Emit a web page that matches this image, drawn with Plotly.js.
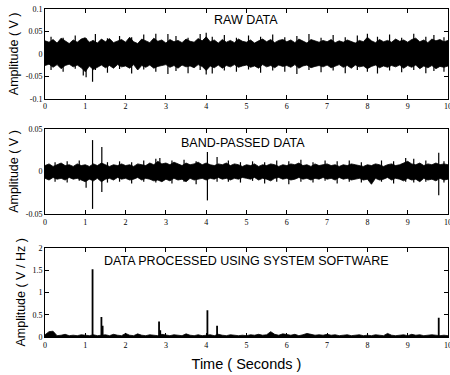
<!DOCTYPE html>
<html>
<head>
<meta charset="utf-8">
<script src="https://cdn.plot.ly/plotly-3.0.1.min.js"></script>
<style>html,body{margin:0;padding:0;background:#fff;}#chart{width:450px;height:375px;}</style>
</head>
<body>
<div id="chart"></div>
<script>
// time grid (seconds), 0.1 s step
const timeS = [0,0.1,0.2,0.3,0.4,0.5,0.6,0.7,0.8,0.9,1,1.1,1.2,1.3,1.4,1.5,1.6,1.7,1.8,1.9,2,2.1,2.2,2.3,2.4,2.5,2.6,2.7,2.8,2.9,3,3.1,3.2,3.3,3.4,3.5,3.6,3.7,3.8,3.9,4,4.1,4.2,4.3,4.4,4.5,4.6,4.7,4.8,4.9,5,5.1,5.2,5.3,5.4,5.5,5.6,5.7,5.8,5.9,6,6.1,6.2,6.3,6.4,6.5,6.6,6.7,6.8,6.9,7,7.1,7.2,7.3,7.4,7.5,7.6,7.7,7.8,7.9,8,8.1,8.2,8.3,8.4,8.5,8.6,8.7,8.8,8.9,9,9.1,9.2,9.3,9.4,9.5,9.6,9.7,9.8,9.9,10];

// RAW DATA envelope (V)
const rawUpper = [0.029,0.026,0.032,0.024,0.035,0.028,0.023,0.031,0.026,0.033,
  0.036,0.026,0.030,0.024,0.033,0.027,0.034,0.025,0.029,0.032,
  0.026,0.037,0.027,0.023,0.033,0.029,0.025,0.035,0.028,0.031,
  0.024,0.032,0.027,0.030,0.025,0.033,0.028,0.026,0.034,0.029,
  0.038,0.027,0.031,0.024,0.032,0.026,0.030,0.025,0.033,0.028,
  0.026,0.031,0.024,0.029,0.033,0.027,0.032,0.025,0.030,0.032,
  0.027,0.031,0.025,0.033,0.028,0.024,0.032,0.029,0.026,0.030,
  0.027,0.032,0.025,0.029,0.026,0.031,0.028,0.024,0.030,0.027,
  0.037,0.029,0.025,0.032,0.027,0.030,0.026,0.033,0.028,0.031,
  0.026,0.032,0.035,0.027,0.031,0.025,0.033,0.029,0.032,0.027,0.030];
const rawLower = [-0.026,-0.023,-0.030,-0.024,-0.033,-0.026,-0.023,-0.029,-0.025,-0.031,
  -0.040,-0.027,-0.035,-0.030,-0.025,-0.031,-0.026,-0.032,-0.024,-0.029,
  -0.027,-0.032,-0.024,-0.036,-0.026,-0.030,-0.025,-0.032,-0.028,-0.026,
  -0.024,-0.030,-0.026,-0.032,-0.025,-0.029,-0.027,-0.031,-0.024,-0.028,
  -0.037,-0.027,-0.031,-0.025,-0.032,-0.026,-0.029,-0.024,-0.030,-0.027,
  -0.025,-0.030,-0.027,-0.032,-0.024,-0.029,-0.026,-0.031,-0.025,-0.028,
  -0.026,-0.030,-0.024,-0.032,-0.027,-0.025,-0.031,-0.028,-0.026,-0.029,
  -0.025,-0.031,-0.027,-0.024,-0.030,-0.026,-0.032,-0.025,-0.029,-0.027,
  -0.033,-0.028,-0.025,-0.031,-0.027,-0.030,-0.026,-0.029,-0.025,-0.032,
  -0.026,-0.030,-0.025,-0.033,-0.027,-0.031,-0.026,-0.033,-0.028,-0.030,-0.027];
// individual excursions (t, min, max)
const rawSpikeT  = [0.15,0.45,0.75,0.95,1.02,1.18,1.25,1.55,1.85,2.15,2.45,2.75,3.05,3.25,3.55,3.85,4.0,4.15,4.45,4.75,5.05,5.35,5.65,5.95,6.25,6.55,6.85,7.15,7.45,7.75,8.0,8.25,8.55,8.85,9.15,9.45,9.65,9.9];
const rawSpikeLo = [-0.036,-0.040,-0.033,-0.048,-0.052,-0.062,-0.036,-0.042,-0.034,-0.044,-0.035,-0.040,-0.045,-0.038,-0.043,-0.036,-0.046,-0.044,-0.037,-0.040,-0.035,-0.042,-0.037,-0.040,-0.045,-0.036,-0.041,-0.037,-0.043,-0.036,-0.040,-0.044,-0.037,-0.041,-0.036,-0.043,-0.038,-0.040];
const rawSpikeHi = [0.038,0.036,0.041,0.030,0.035,0.030,0.044,0.035,0.040,0.037,0.043,0.045,0.044,0.040,0.036,0.044,0.047,0.038,0.042,0.036,0.041,0.038,0.043,0.037,0.040,0.044,0.036,0.042,0.037,0.041,0.045,0.038,0.043,0.036,0.045,0.038,0.042,0.037];

// BAND-PASSED DATA envelope (V)
const bpUpper = [0.007,0.009,0.006,0.008,0.010,0.007,0.008,0.006,0.009,0.007,
  0.008,0.006,0.009,0.007,0.010,0.008,0.006,0.008,0.007,0.009,
  0.007,0.008,0.006,0.009,0.008,0.007,0.010,0.008,0.012,0.009,
  0.010,0.008,0.011,0.009,0.007,0.010,0.008,0.009,0.011,0.008,
  0.010,0.008,0.007,0.009,0.008,0.010,0.007,0.009,0.008,0.006,
  0.008,0.007,0.009,0.006,0.008,0.007,0.009,0.008,0.006,0.008,
  0.007,0.009,0.008,0.010,0.007,0.008,0.006,0.009,0.007,0.008,
  0.009,0.007,0.008,0.006,0.008,0.007,0.009,0.008,0.007,0.006,
  0.008,0.007,0.009,0.008,0.006,0.008,0.009,0.007,0.008,0.010,
  0.012,0.009,0.008,0.010,0.007,0.009,0.008,0.010,0.008,0.009,0.008];
const bpLower = [-0.008,-0.010,-0.007,-0.009,-0.008,-0.010,-0.007,-0.009,-0.008,-0.010,
  -0.012,-0.009,-0.011,-0.008,-0.012,-0.009,-0.008,-0.010,-0.007,-0.009,
  -0.008,-0.010,-0.009,-0.007,-0.010,-0.008,-0.009,-0.011,-0.010,-0.012,
  -0.009,-0.011,-0.008,-0.010,-0.009,-0.012,-0.008,-0.010,-0.009,-0.008,
  -0.010,-0.008,-0.009,-0.007,-0.009,-0.008,-0.010,-0.008,-0.009,-0.007,
  -0.008,-0.009,-0.007,-0.010,-0.008,-0.009,-0.011,-0.008,-0.007,-0.009,
  -0.008,-0.010,-0.009,-0.007,-0.009,-0.008,-0.010,-0.008,-0.009,-0.007,
  -0.009,-0.008,-0.010,-0.007,-0.009,-0.008,-0.010,-0.009,-0.008,-0.010,
  -0.009,-0.015,-0.008,-0.010,-0.009,-0.007,-0.010,-0.008,-0.009,-0.011,
  -0.008,-0.010,-0.009,-0.012,-0.008,-0.010,-0.009,-0.011,-0.008,-0.010,-0.009];
const bpSpikeT  = [0.25,0.55,0.85,1.02,1.18,1.41,1.55,1.85,2.15,2.45,2.75,2.85,3.15,3.45,3.75,4.03,4.27,4.55,4.85,5.15,5.45,5.75,6.05,6.35,6.65,6.95,7.25,7.55,7.85,8.35,8.65,8.95,9.15,9.45,9.77,9.9];
const bpSpikeLo = [-0.012,-0.013,-0.011,-0.019,-0.044,-0.024,-0.013,-0.012,-0.014,-0.012,-0.013,-0.010,-0.014,-0.012,-0.015,-0.034,-0.012,-0.012,-0.013,-0.011,-0.014,-0.012,-0.015,-0.012,-0.013,-0.011,-0.014,-0.012,-0.013,-0.012,-0.014,-0.012,-0.013,-0.012,-0.028,-0.013];
const bpSpikeHi = [0.011,0.012,0.013,0.006,0.037,0.029,0.011,0.012,0.011,0.013,0.015,0.016,0.013,0.014,0.012,0.023,0.017,0.013,0.011,0.012,0.011,0.013,0.012,0.014,0.011,0.013,0.012,0.013,0.011,0.013,0.012,0.016,0.015,0.013,0.022,0.012];

// PROCESSED DATA (V / Hz)
const procBase = [0.05,0.12,0.13,0.03,0.04,0.06,0.03,0.04,0.03,0.05,
  0.04,0.03,0.05,0.03,0.04,0.05,0.03,0.06,0.04,0.03,
  0.08,0.04,0.03,0.07,0.04,0.03,0.05,0.04,0.03,0.06,
  0.04,0.03,0.05,0.04,0.03,0.07,0.04,0.03,0.05,0.03,
  0.04,0.05,0.03,0.06,0.04,0.03,0.05,0.04,0.03,0.04,
  0.03,0.05,0.04,0.06,0.04,0.05,0.12,0.06,0.04,0.07,
  0.05,0.04,0.06,0.03,0.05,0.08,0.06,0.04,0.05,0.04,
  0.06,0.04,0.05,0.03,0.04,0.05,0.03,0.04,0.05,0.03,
  0.04,0.03,0.05,0.04,0.03,0.08,0.04,0.03,0.04,0.05,
  0.03,0.06,0.04,0.05,0.03,0.04,0.05,0.04,0.03,0.04,0.03];
const procSpikeT  = [1.18, 1.40, 1.43, 2.83, 2.86, 4.03, 4.27, 9.77];
const procSpikeHi = [1.52, 0.45, 0.25, 0.35, 0.15, 0.60, 0.25, 0.43];

const yTicksTop = [-0.1, -0.05, 0, 0.05, 0.1];
const yTickTextTop = ['-0.1', '-0.05', '0', '0.05', '0.1'];
const yTicksMid = [-0.05, 0, 0.05];
const yTickTextMid = ['-0.05', '0', '0.05'];
const yTicksBot = [0, 0.5, 1, 1.5, 2];
const yTickTextBot = ['0', '0.5', '1', '1.5', '2'];
const xTicks = [0,1,2,3,4,5,6,7,8,9,10];

function spikeTrace(ts, lo, hi, xa, ya, w) {
  const x = [], y = [];
  ts.forEach((t, i) => { x.push(t, t, null); y.push(lo[i], hi[i], null); });
  return {x, y, xaxis: xa, yaxis: ya, mode: 'lines', line: {color: '#000', width: w}, hoverinfo: 'skip', showlegend: false};
}
function band(upper, lower, xa, ya, lw) {
  return [
    {x: timeS, y: upper, xaxis: xa, yaxis: ya, mode: 'lines', line: {color: '#000', width: 0.8}, showlegend: false, hoverinfo: 'skip'},
    {x: timeS, y: lower, xaxis: xa, yaxis: ya, mode: 'lines', fill: 'tonexty', fillcolor: '#000', line: {color: '#000', width: lw}, showlegend: false, hoverinfo: 'skip'}
  ];
}
const zeros = timeS.map(() => 0);

const data = [
  ...band(rawUpper, rawLower, 'x', 'y', 0.8),
  spikeTrace(rawSpikeT, rawSpikeLo, rawSpikeHi, 'x', 'y', 1.2),
  ...band(bpUpper, bpLower, 'x2', 'y2', 0.8),
  spikeTrace(bpSpikeT, bpSpikeLo, bpSpikeHi, 'x2', 'y2', 1.2),
  ...band(procBase, zeros, 'x3', 'y3', 2.2),
  spikeTrace(procSpikeT, procSpikeT.map(() => 0), procSpikeHi, 'x3', 'y3', 1.8)
];

const tickFont = {family: 'Liberation Serif, Times New Roman, serif', size: 8, color: '#000'};
const titleFont = {family: 'Liberation Sans, Arial, sans-serif', size: 12.5, color: '#000'};
function xax(anchor, withTitle) {
  const a = {domain: [0, 1], range: [0, 10], tickvals: xTicks, ticktext: xTicks.map(String), anchor: anchor,
    showline: true, linecolor: '#000', linewidth: 1, mirror: 'allticks', ticks: 'inside', ticklen: 4, tickcolor: '#000',
    showgrid: false, zeroline: false, tickfont: tickFont, fixedrange: true, ticklabeloverflow: 'allow'};
  if (withTitle) a.title = {text: 'Time ( Seconds )', font: {family: 'Liberation Sans, Arial, sans-serif', size: 14.5, color: '#000'}, standoff: 10};
  return a;
}
function yax(anchor, dom, range, tv, tt, title) {
  return {domain: dom, range: range, tickvals: tv, ticktext: tt, anchor: anchor,
    showline: true, linecolor: '#000', linewidth: 1, mirror: 'allticks', ticks: 'inside', ticklen: 4, tickcolor: '#000',
    showgrid: false, zeroline: false, tickfont: tickFont, fixedrange: true,
    title: {text: title, font: titleFont, standoff: 4}};
}
const annFont = {family: 'Liberation Sans, Arial, sans-serif', size: 12.5, color: '#000'};
const layout = {
  width: 450, height: 375,
  margin: {l: 45, r: 2, t: 9, b: 38},
  paper_bgcolor: '#fff', plot_bgcolor: '#fff',
  showlegend: false,
  xaxis: xax('y', false),
  yaxis: yax('x', [0.7265, 1], [-0.1, 0.1], yTicksTop, yTickTextTop, 'Amplitude ( V )'),
  xaxis2: xax('y2', false),
  yaxis2: yax('x2', [0.375, 0.634], [-0.05, 0.05], yTicksMid, yTickTextMid, 'Amplitude ( V )'),
  xaxis3: xax('y3', true),
  yaxis3: yax('x3', [0, 0.272], [0, 2], yTicksBot, yTickTextBot, 'Amplitude ( V / Hz )'),
  annotations: [
    {text: 'RAW DATA', x: 4.99, y: 0.076, xref: 'x', yref: 'y', showarrow: false, font: annFont},
    {text: 'BAND-PASSED DATA', x: 4.91, y: 0.0335, xref: 'x2', yref: 'y2', showarrow: false, font: annFont},
    {text: 'DATA PROCESSED USING SYSTEM SOFTWARE', x: 5.0, y: 1.70, xref: 'x3', yref: 'y3', showarrow: false, font: annFont}
  ]
};
Plotly.newPlot('chart', data, layout, {staticPlot: true, displayModeBar: false});
</script>
</body>
</html>
